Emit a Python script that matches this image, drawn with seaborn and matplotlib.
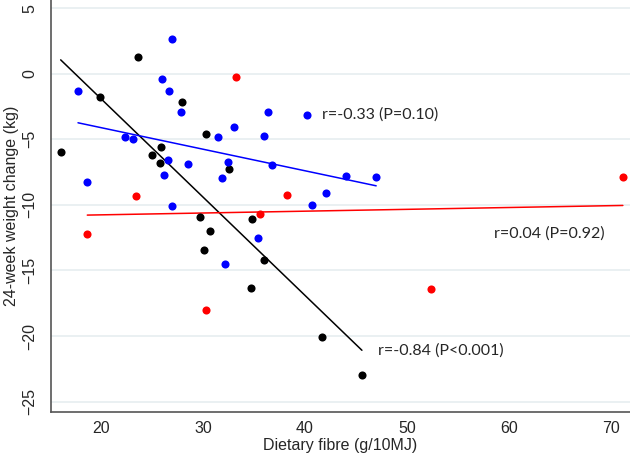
import numpy as np
import pandas as pd
import matplotlib.pyplot as plt
import seaborn as sns

# black group
black_x = [16.05, 19.93, 23.6, 28.0, 30.3, 25.9, 25.0, 25.8, 32.6, 29.7, 34.8, 30.7, 30.1, 36.0, 34.7, 41.7, 45.6]
black_y = [-5.94, -1.79, 1.26, -2.12, -4.61, -5.56, -6.17, -6.78, -7.28, -10.92, -11.1, -12.0, -13.46, -14.17, -16.33, -20.05, -23.0]

# blue group
blue_x = [27.0, 17.75, 26.0, 26.7, 27.9, 33.1, 36.4, 40.2, 22.4, 23.1, 31.5, 36.0, 26.6, 28.5, 32.5,
          36.8, 26.2, 31.9, 18.66, 27.0, 40.75, 42.06, 44.0, 47.0, 35.4, 32.2]
blue_y = [2.66, -1.31, -0.42, -1.31, -2.93, -4.03, -2.93, -3.14, -4.82, -4.99, -4.79, -4.72, -6.57, -6.88, -6.75,
          -6.93, -7.74, -7.92, -8.23, -10.06, -10.03, -9.11, -7.79, -7.89, -12.5, -14.5]

# red group
red_x = [33.2, 23.4, 38.3, 35.6, 18.66, 30.3, 52.35, 71.2]
red_y = [-0.27, -9.32, -9.24, -10.71, -12.22, -18.01, -16.39, -7.89]

labels = ["r=-0.84 (P<0.001)", "r=-0.33 (P=0.10)", "r=0.04 (P=0.92)"]
label_pos = [(47.2, -21.1), (41.7, -3.14), (58.6, -12.16)]

df = pd.concat([
    pd.DataFrame({"fibre": black_x, "change": black_y, "grp": "black"}),
    pd.DataFrame({"fibre": blue_x, "change": blue_y, "grp": "blue"}),
    pd.DataFrame({"fibre": red_x, "change": red_y, "grp": "red"}),
])
colors = {"black": "black", "blue": "#0000FF", "red": "#FF0000"}

sns.set_style("white")
plt.rcParams["font.family"] = ["Liberation Sans", "DejaVu Sans"]

fig = plt.figure(figsize=(6.3, 4.57), dpi=100)
ax = fig.add_axes([51 / 630, 1 - 411.7 / 457, 1 - 51 / 630, 411.7 / 457])

for g in ["black", "blue", "red"]:
    sub = df[df["grp"] == g]
    sns.regplot(data=sub, x="fibre", y="change", ci=None, ax=ax, color=colors[g],
                scatter_kws={"s": 34, "linewidths": 0, "alpha": 1, "zorder": 3},
                line_kws={"lw": 1.1, "zorder": 2})

for txt, (tx, ty) in zip(labels, label_pos):
    ax.text(tx, ty, txt, va="center", ha="left", fontsize=11.5, family=["Lato", "DejaVu Sans"])

ax.set_xlim(15.1, 71.9)
ax.set_ylim(-25.77, 5.63)
ax.set_xticks([20, 30, 40, 50, 60, 70])
ax.set_yticks([5, 0, -5, -10, -15, -20, -25])
ax.yaxis.grid(True, color="#e6eef0", lw=1.2)
ax.set_axisbelow(True)
for s in ["top", "right"]:
    ax.spines[s].set_visible(False)
for s in ["left", "bottom"]:
    ax.spines[s].set_color("#555555")
    ax.spines[s].set_linewidth(1.2)
ax.tick_params(axis="both", direction="out", length=4.8, width=1.1, color="#555555", labelsize=11.5)
ax.tick_params(axis="x", pad=2)
ax.tick_params(axis="y", pad=5)
plt.setp(ax.get_yticklabels(), rotation=90, va="center")
ax.set_xlabel("Dietary fibre (g/10MJ)", fontsize=11.5, labelpad=1.5)
ax.set_ylabel("24-week weight change (kg)", fontsize=11.5)
ax.yaxis.set_label_coords(-0.056, 0.5)

fig.savefig("out.png", dpi=100)
